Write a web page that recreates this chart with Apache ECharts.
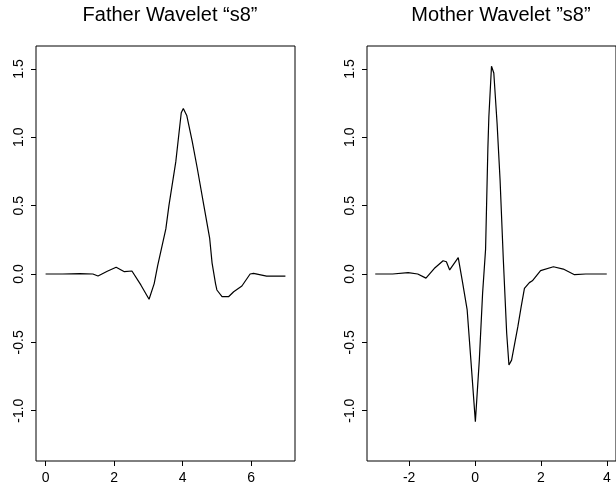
<!DOCTYPE html>
<html lang="en">
  <head>
    <meta charset="UTF-8" />
    <title>Symmlet s8</title>
    <script src="https://cdn.jsdelivr.net/npm/echarts@6/dist/echarts.min.js"></script>
    <style>
      html, body { margin: 0; padding: 0; background: #fff; }
      #chart { width: 616px; height: 489px; }
    </style>
  </head>
  <body>
    <div id="chart"></div>
    <script>
      // father wavelet
      var fatherX = [0, 0.5, 1.0, 1.38, 1.53, 1.8, 2.06, 2.3, 2.52, 2.78, 3.02, 3.17, 3.27, 3.51, 3.6, 3.8, 3.92, 3.96, 4.02, 4.12, 4.28, 4.43, 4.62, 4.79, 4.86, 4.96, 5.0, 5.15, 5.34, 5.49, 5.73, 5.97, 6.07, 6.45, 7.0];
      var fatherY = [0, 0, 0.003, 0, -0.015, 0.02, 0.049, 0.017, 0.022, -0.08, -0.185, -0.07, 0.06, 0.33, 0.5, 0.82, 1.09, 1.18, 1.21, 1.16, 0.97, 0.77, 0.5, 0.26, 0.08, -0.07, -0.117, -0.166, -0.166, -0.13, -0.088, 0.0, 0.005, -0.015, -0.015];

      // mother wavelet
      var motherX = [-3.03, -2.5, -2.03, -1.74, -1.49, -1.24, -0.97, -0.87, -0.77, -0.51, -0.38, -0.24, -0.12, 0.01, 0.13, 0.23, 0.32, 0.39, 0.42, 0.5, 0.57, 0.67, 0.76, 0.86, 0.96, 1.03, 1.11, 1.3, 1.4, 1.5, 1.65, 1.74, 1.99, 2.38, 2.68, 3.02, 3.36, 4.0];
      var motherY = [0, 0, 0.01, 0, -0.03, 0.04, 0.097, 0.09, 0.03, 0.12, -0.06, -0.26, -0.65, -1.08, -0.63, -0.14, 0.18, 0.92, 1.15, 1.52, 1.47, 1.1, 0.69, 0.1, -0.43, -0.666, -0.63, -0.385, -0.24, -0.105, -0.063, -0.05, 0.025, 0.053, 0.036, -0.005, 0, 0];

      var yTicks = [-1, -0.5, 0, 0.5, 1, 1.5];
      var fatherXTicks = [0, 2, 4, 6];
      var motherXTicks = [-2, 0, 2, 4];

      function pairs(xs, ys) {
        return xs.map(function (x, i) { return [x, ys[i]]; });
      }

      var font = "Liberation Sans";

      function xAxisOf(idx, min, max, ticks) {
        return {
          type: "value",
          gridIndex: idx,
          min: min,
          max: max,
          splitLine: { show: false },
          axisLine: { show: false, onZero: false },
          axisTick: { show: true, length: 5, customValues: ticks, lineStyle: { color: "#000" } },
          axisLabel: { customValues: ticks, margin: 10, color: "#000", fontSize: 14, fontFamily: font }
        };
      }
      function yAxisOf(idx) {
        return {
          type: "value",
          gridIndex: idx,
          min: -1.368,
          max: 1.668,
          splitLine: { show: false },
          axisLine: { show: false, onZero: false },
          axisTick: { show: true, length: 5, customValues: yTicks, lineStyle: { color: "#000" } },
          axisLabel: {
            customValues: yTicks,
            rotate: 90,
            margin: 10,
            color: "#000",
            fontSize: 14,
            fontFamily: font,
            formatter: function (v) { return v.toFixed(1); }
          }
        };
      }

      var myChart = echarts.init(document.getElementById("chart"));
      var option = {
        animation: false,
        backgroundColor: "#fff",
        title: [
          { text: "Father Wavelet \u201cs8\u201d", left: 165, top: 0, textAlign: "center",
            textStyle: { fontFamily: font, fontSize: 20, fontWeight: "normal", color: "#000" } },
          { text: "Mother Wavelet \u201ds8\u201d", left: 496, top: 0, textAlign: "center",
            textStyle: { fontFamily: font, fontSize: 20, fontWeight: "normal", color: "#000" } }
        ],
        grid: [
          { left: 36, top: 46, width: 259, height: 415, show: true, borderColor: "#000", borderWidth: 1 },
          { left: 367, top: 46, width: 257, height: 415, show: true, borderColor: "#000", borderWidth: 1 }
        ],
        xAxis: [
          xAxisOf(0, -0.28, 7.28, fatherXTicks),
          xAxisOf(1, -3.28, 4.28, motherXTicks)
        ],
        yAxis: [yAxisOf(0), yAxisOf(1)],
        series: [
          {
            type: "line", xAxisIndex: 0, yAxisIndex: 0,
            data: pairs(fatherX, fatherY),
            showSymbol: false,
            lineStyle: { color: "#000", width: 1.2 }
          },
          {
            type: "line", xAxisIndex: 1, yAxisIndex: 1,
            data: pairs(motherX, motherY),
            showSymbol: false,
            lineStyle: { color: "#000", width: 1.2 }
          }
        ]
      };
      myChart.setOption(option);
    </script>
  </body>
</html>
